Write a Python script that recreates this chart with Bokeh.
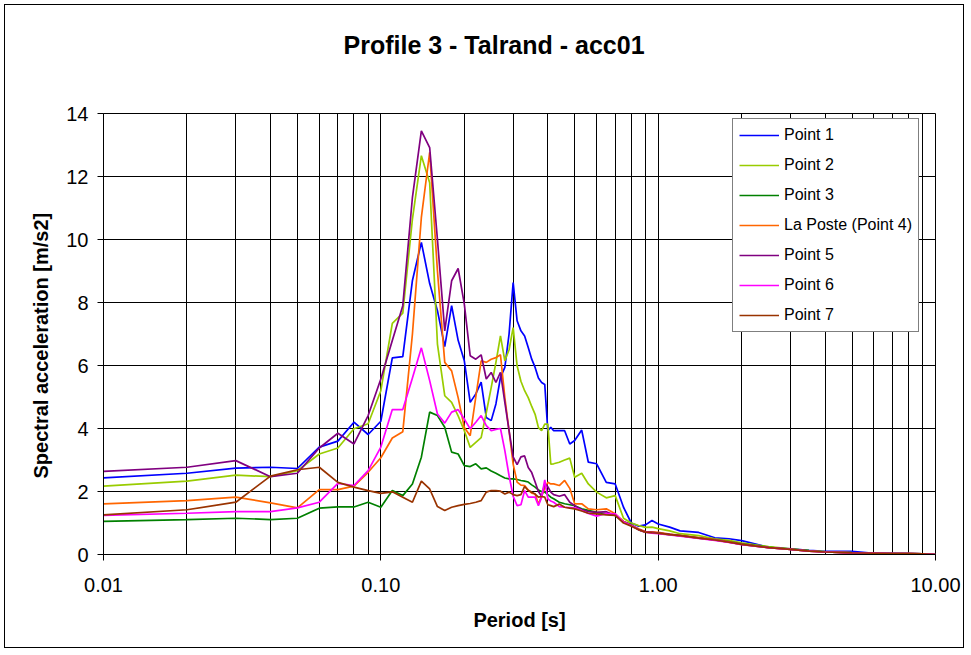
import math
from bokeh.plotting import figure
from bokeh.models import FixedTicker, NumeralTickFormatter, Legend, LegendItem, Title, Range1d
from bokeh.embed import file_html
from bokeh.resources import INLINE

periods = [0.01, 0.02, 0.03, 0.04, 0.05, 0.06, 0.07, 0.08, 0.09, 0.10,
           0.11, 0.12, 0.13, 0.14, 0.15, 0.16, 0.17, 0.18, 0.19, 0.20,
           0.21, 0.22, 0.23, 0.24, 0.25, 0.26, 0.27, 0.28, 0.29, 0.30,
           0.31, 0.32, 0.33, 0.34, 0.35, 0.36, 0.37, 0.38, 0.39, 0.40,
           0.41, 0.42, 0.44, 0.46, 0.48, 0.50, 0.53, 0.56, 0.60, 0.65,
           0.70, 0.75, 0.80, 0.85, 0.90, 0.95, 1.00, 1.1, 1.2, 1.4,
           1.6, 1.8, 2.0, 2.5, 3.0, 3.5, 4.0, 5.0, 6.0, 7.0,
           8.0, 9.0, 10.0]

point1 = [2.43, 2.58, 2.74, 2.77, 2.73, 3.41, 3.60, 4.20, 3.81, 4.23,
          6.24, 6.28, 8.70, 9.91, 8.60, 7.74, 6.60, 7.90, 6.80, 6.15,
          4.83, 5.10, 5.47, 4.35, 4.25, 4.78, 5.62, 5.94, 7.00, 8.63,
          7.42, 7.10, 6.94, 6.57, 6.20, 5.94, 5.60, 5.46, 5.40, 3.93,
          4.04, 3.93, 3.93, 3.93, 3.51, 3.62, 3.95, 2.93, 2.88, 2.29,
          2.24, 1.50, 1.00, 0.90, 0.94, 1.08, 0.97, 0.87, 0.75, 0.70,
          0.53, 0.50, 0.44, 0.23, 0.18, 0.13, 0.10, 0.10, 0.04, 0.04,
          0.03, 0.02, 0.00]
point2 = [2.17, 2.33, 2.52, 2.47, 2.66, 3.19, 3.38, 3.99, 4.15, 5.20,
          7.34, 7.66, 10.65, 12.66, 11.80, 6.68, 5.04, 4.83, 4.40, 3.93,
          3.40, 3.56, 3.71, 4.50, 5.30, 6.10, 6.94, 6.15, 6.50, 7.20,
          5.99, 5.50, 5.20, 4.98, 4.70, 4.45, 4.03, 3.93, 4.14, 4.14,
          2.87, 2.88, 2.93, 3.00, 3.06, 2.45, 2.58, 2.24, 1.98, 1.80,
          1.87, 1.15, 1.00, 0.92, 0.86, 0.87, 0.82, 0.75, 0.66, 0.60,
          0.50, 0.45, 0.37, 0.25, 0.18, 0.12, 0.09, 0.06, 0.04, 0.03,
          0.03, 0.02, 0.00]
point3 = [1.05, 1.11, 1.15, 1.11, 1.15, 1.47, 1.51, 1.51, 1.66, 1.50,
          2.03, 1.87, 2.24, 3.09, 4.52, 4.41, 4.04, 3.25, 3.19, 2.82,
          2.79, 2.88, 2.72, 2.75, 2.65, 2.58, 2.50, 2.43, 2.40, 2.40,
          2.38, 2.35, 2.33, 2.30, 2.21, 2.14, 2.05, 2.00, 1.98, 1.90,
          1.82, 1.77, 1.66, 1.61, 1.58, 1.55, 1.45, 1.40, 1.34, 1.29,
          1.24, 1.05, 0.95, 0.78, 0.71, 0.70, 0.68, 0.63, 0.60, 0.53,
          0.47, 0.41, 0.34, 0.23, 0.17, 0.12, 0.08, 0.05, 0.04, 0.03,
          0.03, 0.02, 0.00]
point4 = [1.61, 1.71, 1.82, 1.64, 1.48, 2.06, 2.06, 2.17, 2.61, 3.07,
          3.70, 3.90, 7.00, 10.70, 12.77, 9.00, 6.10, 5.83, 4.98, 4.03,
          3.77, 5.00, 6.15, 6.10, 6.20, 6.25, 6.34, 4.98, 3.92, 2.87,
          2.30, 2.20, 2.19, 2.05, 1.95, 1.92, 1.60, 1.85, 2.10, 2.29,
          2.24, 2.24, 2.19, 2.35, 2.10, 1.61, 1.61, 1.45, 1.42, 1.45,
          1.29, 1.05, 0.93, 0.82, 0.73, 0.72, 0.70, 0.65, 0.61, 0.54,
          0.47, 0.40, 0.33, 0.22, 0.16, 0.11, 0.08, 0.05, 0.04, 0.03,
          0.03, 0.02, 0.00]
point5 = [2.64, 2.77, 2.98, 2.47, 2.58, 3.38, 3.85, 3.51, 4.41, 5.57,
          6.79, 7.90, 11.34, 13.45, 12.92, 10.00, 7.10, 8.69, 9.08, 7.95,
          6.31, 6.20, 6.34, 5.57, 5.78, 5.46, 5.78, 4.83, 3.93, 3.10,
          2.85, 3.10, 3.13, 2.76, 2.60, 2.30, 2.00, 1.85, 2.25, 2.15,
          1.98, 1.90, 1.85, 1.90, 1.66, 1.55, 1.42, 1.36, 1.34, 1.36,
          1.24, 1.03, 0.92, 0.79, 0.71, 0.70, 0.68, 0.64, 0.60, 0.52,
          0.46, 0.39, 0.32, 0.22, 0.16, 0.11, 0.08, 0.05, 0.04, 0.03,
          0.03, 0.02, 0.00]
point6 = [1.24, 1.31, 1.36, 1.36, 1.48, 1.66, 2.26, 2.19, 2.66, 3.41,
          4.60, 4.60, 5.60, 6.56, 5.52, 4.46, 4.17, 4.52, 4.60, 4.30,
          3.99, 4.20, 4.41, 4.09, 3.93, 3.97, 4.00, 3.30, 2.50, 1.85,
          1.55, 1.58, 2.03, 1.82, 1.82, 1.82, 1.55, 1.82, 2.37, 1.77,
          1.70, 1.66, 1.52, 1.50, 1.49, 1.48, 1.40, 1.30, 1.22, 1.30,
          1.29, 1.03, 0.92, 0.79, 0.71, 0.68, 0.66, 0.62, 0.58, 0.51,
          0.45, 0.38, 0.31, 0.22, 0.16, 0.11, 0.08, 0.05, 0.04, 0.03,
          0.03, 0.02, 0.00]
point7 = [1.26, 1.42, 1.66, 2.49, 2.69, 2.77, 2.29, 2.14, 2.03, 1.94,
          1.99, 1.82, 1.66, 2.33, 2.08, 1.52, 1.40, 1.50, 1.55, 1.59,
          1.62, 1.66, 1.71, 1.98, 2.03, 2.03, 2.01, 1.92, 1.98, 1.90,
          1.87, 1.90, 2.16, 2.03, 1.98, 1.92, 1.82, 1.84, 1.82, 1.58,
          1.55, 1.52, 1.60, 1.50, 1.47, 1.45, 1.38, 1.31, 1.29, 1.26,
          1.24, 1.00, 0.90, 0.79, 0.71, 0.69, 0.68, 0.63, 0.60, 0.52,
          0.46, 0.39, 0.32, 0.22, 0.16, 0.11, 0.08, 0.05, 0.04, 0.03,
          0.03, 0.02, 0.00]

series_names = ["Point 1", "Point 2", "Point 3", "La Poste (Point 4)",
                "Point 5", "Point 6", "Point 7"]
series_values = [point1, point2, point3, point4, point5, point6, point7]
series_colors = ["#0000FF", "#99CC00", "#008000", "#FF6600",
                 "#800080", "#FF00FF", "#993300"]

x_major_ticks = [0.01, 0.1, 1.0, 10.0]
x_minor_ticks = [0.02, 0.03, 0.04, 0.05, 0.06, 0.07, 0.08, 0.09,
                 0.2, 0.3, 0.4, 0.5, 0.6, 0.7, 0.8, 0.9,
                 2, 3, 4, 5, 6, 7, 8, 9]
y_ticks = [0, 2, 4, 6, 8, 10, 12, 14]

title_text = "Profile 3 - Talrand - acc01"
x_label = "Period [s]"
y_label = "Spectral acceleration [m/s2]"

FONT = "Liberation Sans"

p = figure(width=960, height=644, x_axis_type="log",
           x_range=Range1d(0.01, 10), y_range=Range1d(0, 14),
           output_backend="svg", toolbar_location=None, title=None,
           min_border_left=98, min_border_right=30,
           min_border_top=108, min_border_bottom=95)
p.styles = {"border": "1px solid #000000", "margin-left": "4px", "margin-top": "4px"}
p.background_fill_color = "white"
p.border_fill_color = "white"
p.outline_line_color = "black"
p.outline_line_width = 1

renderers = []
for name, vals, col in zip(series_names, series_values, series_colors):
    r = p.line(periods, vals, line_color=col, line_width=1.7)
    renderers.append(r)

xt = FixedTicker(ticks=x_major_ticks, minor_ticks=x_minor_ticks)
p.xaxis.ticker = xt
p.xgrid.ticker = xt
p.xaxis.formatter = NumeralTickFormatter(format="0.00")
p.yaxis.ticker = FixedTicker(ticks=y_ticks)
p.ygrid.ticker = FixedTicker(ticks=y_ticks)

for g in (p.xgrid, p.ygrid):
    g.grid_line_color = "black"
    g.grid_line_width = 1
p.xgrid.minor_grid_line_color = "black"
p.xgrid.minor_grid_line_width = 1

for ax in (p.xaxis, p.yaxis):
    ax.axis_line_color = "black"
    ax.major_tick_line_color = "black"
    ax.major_tick_out = 6
    ax.major_tick_in = 0
    ax.minor_tick_line_color = None
    ax.major_label_text_font = FONT
    ax.major_label_text_font_size = "20px"
    ax.major_label_text_color = "black"
p.xaxis.major_label_standoff = 17
p.yaxis.major_label_standoff = 9

p.xaxis.axis_label = x_label
p.xaxis.axis_label_text_font = FONT
p.xaxis.axis_label_text_font_size = "20px"
p.xaxis.axis_label_text_font_style = "bold"
p.xaxis.axis_label_text_color = "black"
p.xaxis.axis_label_standoff = 14

ytitle = Title(text=y_label, align="left", offset=76, standoff=23,
               text_font=FONT, text_font_size="20px", text_font_style="bold",
               text_color="black")
p.add_layout(ytitle, "left")

# spacer panel between the frame and the chart title
spacer = Title(text=" ", standoff=52, text_font=FONT, text_font_size="1px",
               text_color="white")
p.add_layout(spacer, "above")

ttitle = Title(text=title_text, align="left", offset=240, standoff=0,
               vertical_align="bottom",
               text_font=FONT, text_font_size="25px", text_font_style="bold",
               text_color="black")
p.add_layout(ttitle, "above")

legend = Legend(items=[LegendItem(label=n, renderers=[r]) for n, r in zip(series_names, renderers)],
                location=(629, 222))
legend.label_text_font = FONT
legend.label_text_font_size = "16px"
legend.label_text_color = "black"
legend.glyph_width = 40
legend.glyph_height = 20
legend.label_height = 20
legend.label_standoff = 5
legend.padding = 6
legend.spacing = 10
legend.margin = 0
legend.border_line_color = "black"
legend.border_line_width = 1
legend.background_fill_color = "white"
legend.background_fill_alpha = 1
p.add_layout(legend)

open("out.html", "w").write(file_html(p, INLINE))
